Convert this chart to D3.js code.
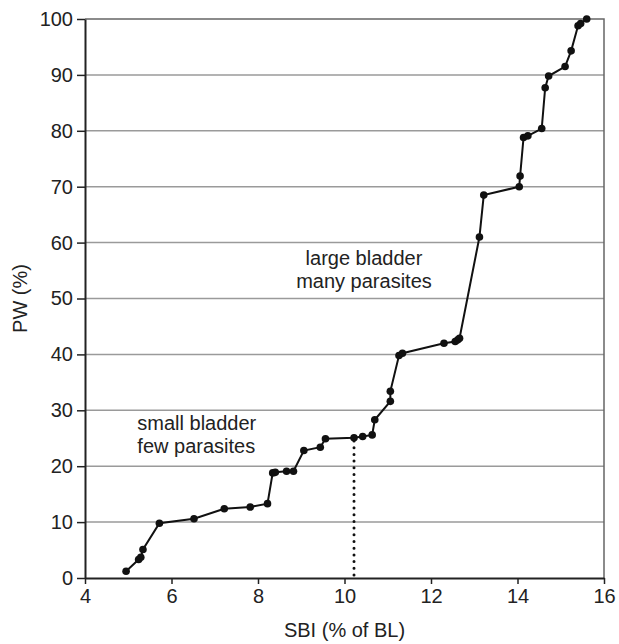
<!DOCTYPE html>
<html>
<head>
<meta charset="utf-8">
<script src="https://cdn.jsdelivr.net/npm/d3@7"></script>
<style>
  body { margin: 0; background: #fff; }
  text { font-family: "Liberation Sans", Arial, sans-serif; fill: #222; }
</style>
</head>
<body>
<div id="chart"></div>
<script>
const width = 619, height = 644, margin = {top: 19, right: 15, bottom: 66, left: 85};

// SBI (% of BL) and PW (%)
const sbi = [4.95, 5.24, 5.29, 5.34, 5.72, 6.52, 7.22, 7.82, 8.22, 8.34, 8.40, 8.66, 8.82,
             9.06, 9.44, 9.56, 10.22, 10.42, 10.64, 10.70, 11.06, 11.06, 11.26, 11.34,
             12.30, 12.56, 12.62, 12.66, 13.12, 13.22, 14.04, 14.06, 14.14, 14.24,
             14.56, 14.64, 14.72, 15.10, 15.24, 15.40, 15.46, 15.60];
const pw  = [1.2, 3.3, 3.7, 5.1, 9.8, 10.6, 12.4, 12.7, 13.3, 18.8, 18.9, 19.1, 19.1,
             22.8, 23.4, 24.9, 25.1, 25.3, 25.6, 28.3, 31.6, 33.4, 39.8, 40.2,
             42.0, 42.3, 42.6, 42.9, 61.0, 68.5, 70.0, 71.9, 78.8, 79.1,
             80.4, 87.7, 89.8, 91.5, 94.3, 98.8, 99.2, 100];
const cutoff = {sbi: 10.22, pw: 25.1};

const xTicks = [4, 6, 8, 10, 12, 14, 16];
const yTicks = [0, 10, 20, 30, 40, 50, 60, 70, 80, 90, 100];

const notes = [
  {x: 10.45, y: 56.0, anchor: "middle", lines: ["large bladder", "many parasites"]},
  {x: 5.21, y: 26.5, anchor: "start", lines: ["small bladder", "few parasites"]}
];

const svg = d3.select('#chart').append('svg')
    .attr('width', width)
    .attr('height', height);

const x = d3.scaleLinear()
    .domain([4, 16])
    .range([margin.left, width - margin.right]);

const y = d3.scaleLinear()
    .domain([0, 100])
    .range([height - margin.bottom, margin.top]);

// gridlines
svg.append("g")
    .selectAll("line")
    .data(yTicks.filter(d => d > 0 && d < 100))
    .enter().append("line")
    .attr("x1", x(4))
    .attr("x2", x(16))
    .attr("y1", d => y(d))
    .attr("y2", d => y(d))
    .attr("stroke", "#9a9a9a")
    .attr("stroke-width", 1.5);

// top and right frame
svg.append("path")
    .attr("d", `M${x(4)},${y(100)}H${x(16)}V${y(0)}`)
    .attr("fill", "none")
    .attr("stroke", "#666")
    .attr("stroke-width", 1.5);

// axes
const xAxis = svg.append("g")
    .attr("transform", `translate(0,${y(0)})`)
    .call(d3.axisBottom(x).tickValues(xTicks).tickSize(6).tickPadding(5).tickSizeOuter(0));

const yAxis = svg.append("g")
    .attr("transform", `translate(${x(4)},0)`)
    .call(d3.axisLeft(y).tickValues(yTicks).tickSize(8).tickPadding(4).tickSizeOuter(0));

[xAxis, yAxis].forEach(g => {
    g.select(".domain").attr("stroke", "#222").attr("stroke-width", 2);
    g.selectAll(".tick line").attr("stroke", "#222").attr("stroke-width", 1.5);
    g.selectAll("text").style("font-family", '"Liberation Sans", Arial, sans-serif')
        .style("font-size", "20px").attr("fill", "#222");
});

// axis titles
svg.append("text")
    .attr("x", (x(4) + x(16)) / 2)
    .attr("y", height - 7)
    .attr("text-anchor", "middle")
    .style("font-size", "20px")
    .text("SBI (% of BL)");

svg.append("text")
    .attr("transform", `translate(27,${(y(0) + y(100)) / 2}) rotate(-90)`)
    .attr("text-anchor", "middle")
    .style("font-size", "20px")
    .text("PW (%)");

// dotted cutoff line
svg.append("line")
    .attr("x1", x(cutoff.sbi))
    .attr("x2", x(cutoff.sbi))
    .attr("y1", y(0) - 3)
    .attr("y2", y(cutoff.pw))
    .attr("stroke", "#111")
    .attr("stroke-width", 3)
    .attr("stroke-linecap", "round")
    .attr("stroke-dasharray", "0,6.7");

// curve
const points = sbi.map((d, i) => [d, pw[i]]);
const line = d3.line()
    .x(d => x(d[0]))
    .y(d => y(d[1]));

svg.append("path")
    .datum(points)
    .attr("fill", "none")
    .attr("stroke", "#111")
    .attr("stroke-width", 2)
    .attr("d", line);

svg.append("g")
    .selectAll("circle")
    .data(points)
    .enter().append("circle")
    .attr("cx", d => x(d[0]))
    .attr("cy", d => y(d[1]))
    .attr("r", 3.8)
    .attr("fill", "#111");

// annotations
notes.forEach(n => {
    const t = svg.append("text")
        .attr("x", x(n.x))
        .attr("y", y(n.y))
        .attr("text-anchor", n.anchor)
        .style("font-size", "20px");
    n.lines.forEach((s, i) => {
        t.append("tspan")
            .attr("x", x(n.x))
            .attr("dy", i === 0 ? 0 : 23)
            .text(s);
    });
});
</script>
</body>
</html>
